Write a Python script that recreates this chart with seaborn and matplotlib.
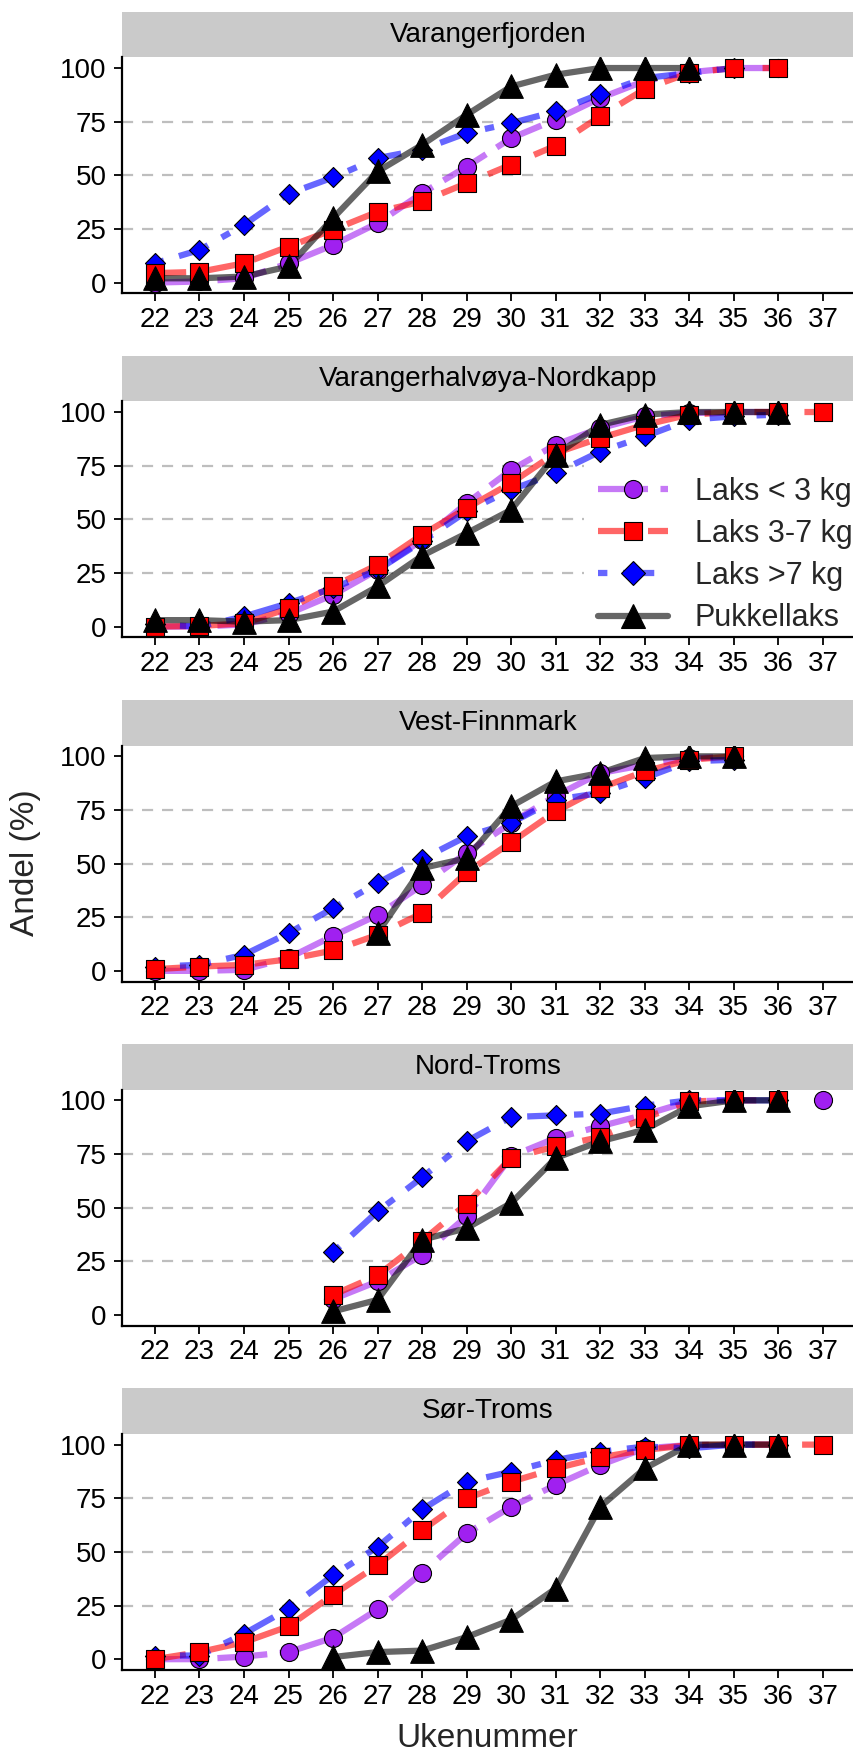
import numpy as np
import pandas as pd
import matplotlib
matplotlib.use('Agg')
from matplotlib import pyplot as plt
from matplotlib.patches import Rectangle
from matplotlib.lines import Line2D
import seaborn as sns

weeks = list(range(22, 38))
regions = ['Varangerfjorden', 'Varangerhalvøya-Nordkapp', 'Vest-Finnmark', 'Nord-Troms', 'Sør-Troms']
groups = ['Laks < 3 kg', 'Laks 3-7 kg', 'Laks >7 kg', 'Pukkellaks']
N = None

# cumulative share (%) by week 22..37, None = no data that week
varangerfjorden_small = [0, 0.5, 2, 9, 17.5, 27.7, 41.7, 54, 67.3, 76, 86, 94, 98, 100, 100, N]
varangerfjorden_mid = [4.4, 5, 9, 16.8, 24.6, 33, 37.8, 46.3, 55, 63.8, 77.5, 90.2, 97.7, 100, 100, N]
varangerfjorden_large = [9, 15.2, 26.9, 41.4, 49, 58, 62, 69.7, 74.3, 79.8, 87.9, 95.3, 97.7, 100, N, N]
varangerfjorden_pink = [2, 2, 2.8, 7.5, 30, 51.8, 64.2, 78.2, 91.4, 96.9, 100, 100, 100, N, N, N]

nordkapp_small = [0, 0, 1, 6, 14.8, 26.4, 40.4, 57.5, 73, 84.8, 92.5, 98, 99.5, 100, 100, N]
nordkapp_mid = [0, 0.3, 1.5, 8.5, 18.7, 28.8, 42.8, 55.2, 66.9, 80.9, 87.9, 94, 98.8, 100, 100, 100]
nordkapp_large = [1, 0, 4.7, 10.9, 17.9, 26.4, 39.7, 53.7, 63.8, 71.5, 81.6, 88.6, 96.4, 98, 98.8, N]
nordkapp_pink = [3, 3, 2.3, 3, 7, 18.7, 33, 43.5, 54.4, 80, 94, 98.8, 100, 100, 100, N]

vestfinnmark_small = [0, 0, 0.5, 6, 16.3, 26, 40, 55, 69, 81.6, 92.2, 96, 99, 100, N, N]
vestfinnmark_mid = [0.8, 2, 2.8, 5.4, 9.5, 16.8, 26.9, 45.9, 59.9, 74.3, 85.2, 93, 98.4, 100, N, N]
vestfinnmark_large = [2, 2.8, 7.5, 17.6, 29.2, 40.9, 52.1, 62.7, 69, 79.8, 82.9, 89.9, 97.7, 98.4, N, N]
vestfinnmark_pink = [N, N, N, N, N, 17.6, 47.9, 52.5, 76.7, 88.3, 92.2, 99.2, 100, 100, N, N]

nordtroms_small = [N, N, N, N, 7.3, 15.6, 28, 45.9, 73.9, 82.4, 87.9, 93.3, 99.5, 100, N, 100]
nordtroms_mid = [N, N, N, N, 9.3, 18.4, 34.5, 51.8, 73.1, 78.5, 82.9, 91.7, 99.5, 100, 100, N]
nordtroms_large = [N, N, N, N, 29.1, 48.2, 64.1, 80.9, 92.2, 93, 93.8, 97.5, 100, 100, 100, N]
nordtroms_pink = [N, N, N, N, 1.6, 7, 35, 40.4, 52.1, 73.1, 80.9, 86.3, 97.2, 100, 100, N]

sortroms_small = [0, 0, 1.2, 3.3, 10, 23.2, 40.3, 58.6, 71, 81.2, 90.5, 98.3, 99.8, 100, 100, N]
sortroms_mid = [0, 3.3, 7.9, 15.3, 30, 43.8, 60.1, 74.9, 82.7, 88.9, 94.1, 97.5, 99.8, 100, 100, 100]
sortroms_large = [1.7, 1.7, 11.8, 23.5, 39.1, 52.3, 69.8, 82.7, 87.4, 92.8, 96.7, 99.1, 98.3, 100, 100, N]
sortroms_pink = [N, N, N, N, 1, 3.3, 4, 10.3, 18.4, 32.9, 71, 88.9, 100, 100, 100, N]

table = {
    'Varangerfjorden': [varangerfjorden_small, varangerfjorden_mid, varangerfjorden_large, varangerfjorden_pink],
    'Varangerhalvøya-Nordkapp': [nordkapp_small, nordkapp_mid, nordkapp_large, nordkapp_pink],
    'Vest-Finnmark': [vestfinnmark_small, vestfinnmark_mid, vestfinnmark_large, vestfinnmark_pink],
    'Nord-Troms': [nordtroms_small, nordtroms_mid, nordtroms_large, nordtroms_pink],
    'Sør-Troms': [sortroms_small, sortroms_mid, sortroms_large, sortroms_pink],
}

# long table; 'run' splits a series where a week is missing so the line breaks there
rows = []
for r in regions:
    for g, vals in zip(groups, table[r]):
        run = 0
        prev = None
        for w, v in zip(weeks, vals):
            if v is None:
                continue
            if prev is not None and w - prev > 1:
                run += 1
            rows.append((r, g, w, v, run))
            prev = w
df = pd.DataFrame(rows, columns=['region', 'group', 'week', 'andel', 'run'])

# styles
fill = {'Laks < 3 kg': '#A020F0', 'Laks 3-7 kg': '#FF0000', 'Laks >7 kg': '#0000FF', 'Pukkellaks': '#000000'}
soft = {'Laks < 3 kg': '#C679F6', 'Laks 3-7 kg': '#FF6666', 'Laks >7 kg': '#6666FF', 'Pukkellaks': '#666666'}
dash = {'Laks < 3 kg': (0, (8, 2)), 'Laks 3-7 kg': (0, (5, 3)), 'Laks >7 kg': (0, (1.5, 2.5, 5, 2.5)), 'Pukkellaks': '-'}
mark = {'Laks < 3 kg': 'o', 'Laks 3-7 kg': 's', 'Laks >7 kg': 'D', 'Pukkellaks': '^'}
msize = {'Laks < 3 kg': 13, 'Laks 3-7 kg': 12.5, 'Laks >7 kg': 10.2, 'Pukkellaks': 17}
LW = 4.5

sns.set_style('white')
plt.rcParams['font.family'] = ['Liberation Sans', 'DejaVu Sans']

W, H = 854, 1753
fig = plt.figure(figsize=(W / 100, H / 100), dpi=100)

panel_tops = [11.7, 355.7, 700, 1044, 1388.3]
strip_h = 45.6
plot_h = 236
left = 122

axes = []
for r, top in zip(regions, panel_tops):
    ax = fig.add_axes([left / W, 1 - (top + strip_h + plot_h) / H, (W - left) / W, plot_h / H])
    axes.append(ax)
    sub = df[df.region == r]
    for g in groups:
        d = sub[sub.group == g]
        sns.lineplot(data=d, x='week', y='andel', units='run', ax=ax, color=fill[g], alpha=0.6, lw=LW,
                     linestyle=dash[g], estimator=None, legend=False, zorder=2,
                     solid_joinstyle='round', dash_capstyle='butt')
    for g in ['Laks < 3 kg', 'Laks >7 kg', 'Laks 3-7 kg', 'Pukkellaks']:
        d = sub[sub.group == g]
        sns.scatterplot(data=d, x='week', y='andel', ax=ax, marker=mark[g], s=msize[g] ** 2,
                        color=fill[g], edgecolor='black', linewidth=0.8, legend=False, zorder=3)
    for yv in [25, 50, 75]:
        ax.axhline(yv, color='#BEBEBE', lw=1.6, linestyle=(0, (5, 4)), zorder=1)
    ax.set_xlim(21.26, 37.7)
    ax.set_ylim(-5, 105)
    ax.set_xticks(weeks)
    ax.set_yticks([0, 25, 50, 75, 100])
    ax.set_xlabel('')
    ax.set_ylabel('')
    ax.tick_params(axis='both', labelsize=20, length=6, width=1.3, color='black',
                   labelcolor='black', direction='out', bottom=True, left=True)
    ax.tick_params(axis='x', pad=4)
    ax.tick_params(axis='y', pad=5)
    for s in ['top', 'right']:
        ax.spines[s].set_visible(False)
    for s in ['left', 'bottom']:
        ax.spines[s].set_color('black')
        ax.spines[s].set_linewidth(1.6)
        ax.spines[s].set_zorder(10)
    ax.xaxis.set_zorder(10)
    frac = strip_h / plot_h
    ax.add_patch(Rectangle((0, 1), 1, frac, transform=ax.transAxes, clip_on=False,
                           facecolor='#CACACA', edgecolor='none'))
    ax.text(0.5, 1 + frac / 2, r, transform=ax.transAxes, ha='center', va='center',
            fontsize=20, color='black')

handles = [Line2D([], [], color=soft[g], lw=LW, linestyle=dash[g], marker=mark[g],
                  markersize=msize[g] if g != 'Laks >7 kg' else msize[g] * 1.2,
                  markerfacecolor=fill[g], markeredgecolor='black', markeredgewidth=0.8)
           for g in groups]
# legend sits inside the second panel, white box hides the grid behind it
axes[1].legend(handles, groups, loc='upper left', bbox_to_anchor=(584 / W, 1 - 463 / H),
               bbox_transform=fig.transFigure, fontsize=22, frameon=True, facecolor='white',
               edgecolor='none', framealpha=1, fancybox=False, borderpad=0.45, labelspacing=0.4,
               handlelength=2.3, handletextpad=0.88, borderaxespad=0, numpoints=1)

fig.text(26 / W, 1 - 863 / H, 'Andel (%)', rotation=90, ha='center', va='center', fontsize=24)
fig.text(487 / W, 1 - 1747 / H, 'Ukenummer', ha='center', va='baseline', fontsize=24)

fig.savefig('out.png', dpi=100)
